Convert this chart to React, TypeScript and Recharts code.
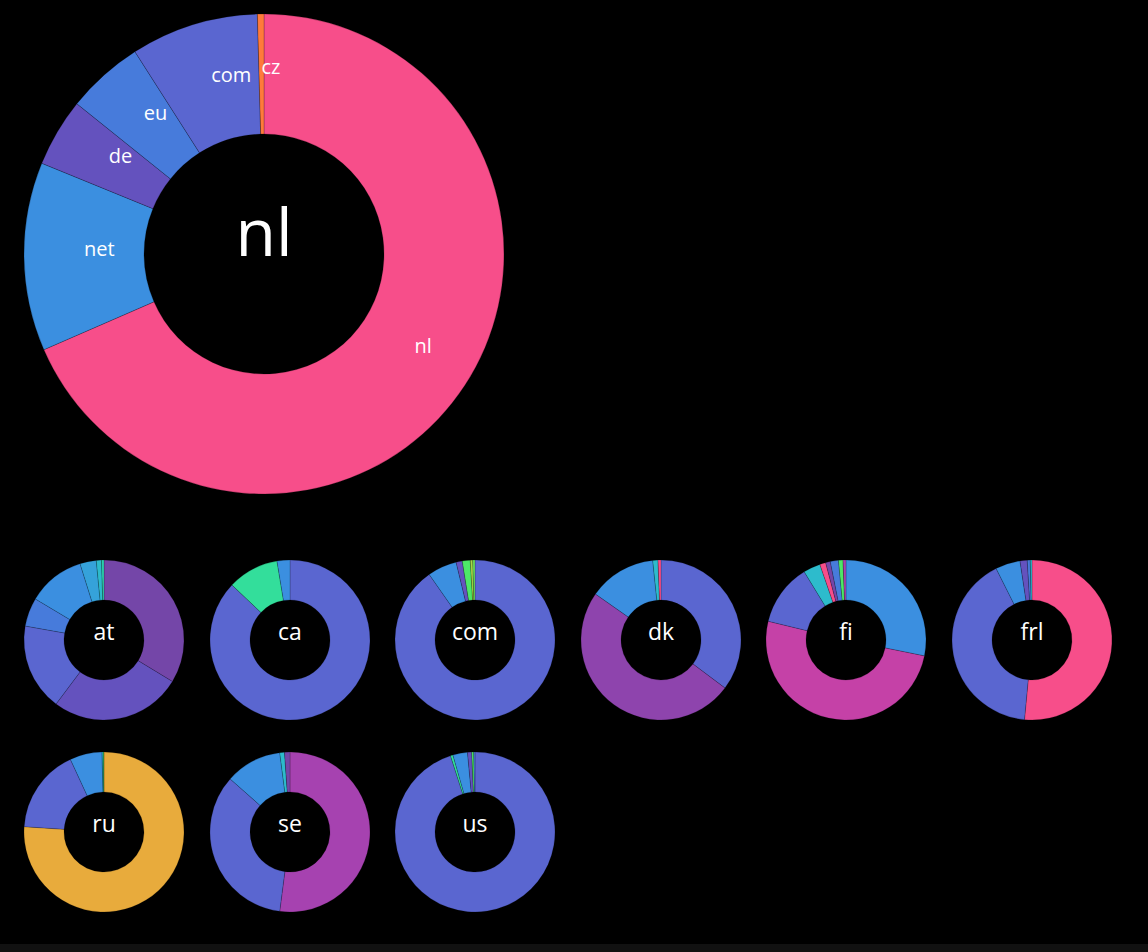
import React from "react";
import { PieChart, Pie, Cell, Label } from "recharts";

// colour per TLD
const TLD_COLORS: Record<string, string> = {
  nl: "#F74E8A",
  net: "#3B8FE0",
  de: "#6452BE",
  eu: "#477BDB",
  com: "#5A66D0",
  cz: "#FF7A3A",
  at: "#7446A8",
  ca: "#33DE9B",
  dk: "#8E44AD",
  fi: "#C541A7",
  ru: "#E8AB3C",
  se: "#A642B0",
  org: "#2DBBCC",
  ch: "#35A2DA",
  io: "#4DE868",
  info: "#2FD0B0",
  be: "#A8D848",
  fr: "#6ADF5C",
};

// main chart
const mainNames = ["nl", "net", "de", "eu", "com", "cz"];
const mainValues = [68.5, 12.7, 4.6, 5.2, 8.6, 0.44];

// small charts
const atNames = ["at", "de", "com", "eu", "net", "ch", "org", "info"];
const atValues = [33.75, 26.6, 17.6, 5.8, 11.6, 3.3, 1.05, 0.5];

const caNames = ["com", "ca", "net"];
const caValues = [86.9, 10.3, 2.6];

const comNames = ["com", "net", "de", "io", "be", "fr"];
const comValues = [90.3, 5.9, 1.25, 1.6, 0.5, 0.45];

const dkNames = ["com", "dk", "net", "org", "nl"];
const dkValues = [35.2, 49.4, 13.6, 1.05, 0.6];

const fiNames = ["net", "fi", "com", "org", "nl", "at", "eu", "io", "se"];
const fiValues = [28.2, 50.6, 12.5, 3.45, 1.2, 0.95, 1.65, 0.9, 0.6];

const frlNames = ["nl", "com", "net", "de", "eu", "org"];
const frlValues = [51.5, 41.1, 5.0, 1.45, 0.6, 0.35];

const ruNames = ["ru", "com", "net", "org", "io"];
const ruValues = [76.1, 17.05, 6.5, 0.25, 0.15];

const seNames = ["se", "com", "net", "org", "at"];
const seValues = [52.05, 34.5, 11.4, 0.95, 1.1];

const usNames = ["com", "ca", "net", "de", "io", "eu"];
const usValues = [95.05, 0.5, 2.95, 0.85, 0.4, 0.25];

const smallCharts = [
  { label: "at", names: atNames, values: atValues },
  { label: "ca", names: caNames, values: caValues },
  { label: "com", names: comNames, values: comValues },
  { label: "dk", names: dkNames, values: dkValues },
  { label: "fi", names: fiNames, values: fiValues },
  { label: "frl", names: frlNames, values: frlValues },
  { label: "ru", names: ruNames, values: ruValues },
  { label: "se", names: seNames, values: seValues },
  { label: "us", names: usNames, values: usValues },
];

const FONT = "'Open Sans', 'Noto Sans', sans-serif";
const RAD = Math.PI / 180;
const SEP = "rgba(0,0,0,0.35)";
const NO_MARGIN = { top: 0, right: 0, bottom: 0, left: 0 };

const toRows = (names: string[], values: number[]) =>
  names.map((name, i) => ({ name, value: values[i] }));

const renderMainLabel = (props: any) => {
  const { cx, cy, midAngle, name } = props;
  const r = 180;
  const x = cx + r * Math.cos(-midAngle * RAD);
  const y = cy + r * Math.sin(-midAngle * RAD);
  return (
    <text x={x} y={y} fill="#fff" fontSize={20} fontWeight={500} fontFamily={FONT} textAnchor="start">
      {name}
    </text>
  );
};

function CenterText({ cx, cy, text, size }: { cx: number; cy: number; text: string; size: number }) {
  return (
    <text x={cx} y={cy} fill="#fff" fontSize={size} fontWeight={500} fontFamily={FONT} textAnchor="middle">
      {text}
    </text>
  );
}

function SmallDonut({ label, names, values }: { label: string; names: string[]; values: number[] }) {
  const data = toRows(names, values);
  return (
    <PieChart width={186} height={192} margin={NO_MARGIN}>
      <Pie
        data={data}
        dataKey="value"
        nameKey="name"
        cx={93}
        cy={96}
        innerRadius={40}
        outerRadius={80}
        startAngle={90}
        endAngle={-270}
        stroke={SEP}
        strokeWidth={0.5}
        isAnimationActive={false}
      >
        {data.map((d, i) => (
          <Cell key={i} fill={TLD_COLORS[d.name]} />
        ))}
        <Label content={() => <CenterText cx={93} cy={96} text={label} size={23} />} />
      </Pie>
    </PieChart>
  );
}

export default function App() {
  const mainData = toRows(mainNames, mainValues);
  return (
    <div style={{ position: "absolute", left: 0, top: 0, width: 1148, height: 952, background: "#111" }}>
      <div style={{ position: "relative", width: 1148, height: 944, background: "#000" }}>
        <div style={{ position: "absolute", left: 0, top: 0 }}>
          <PieChart width={528} height={508} margin={NO_MARGIN}>
            <Pie
              data={mainData}
              dataKey="value"
              nameKey="name"
              cx={264}
              cy={254}
              innerRadius={120}
              outerRadius={240}
              startAngle={90}
              endAngle={-270}
              stroke={SEP}
              strokeWidth={0.6}
              label={renderMainLabel}
              labelLine={false}
              isAnimationActive={false}
            >
              {mainData.map((d, i) => (
                <Cell key={i} fill={TLD_COLORS[d.name]} />
              ))}
              <Label content={() => <CenterText cx={264} cy={256} text="nl" size={66} />} />
            </Pie>
          </PieChart>
        </div>
        {smallCharts.map((c, i) => {
          const col = i % 6;
          const row = Math.floor(i / 6);
          const cx = 104 + col * 185.6;
          const cy = 640 + row * 192;
          return (
            <div key={c.label} style={{ position: "absolute", left: cx - 93, top: cy - 96 }}>
              <SmallDonut label={c.label} names={c.names} values={c.values} />
            </div>
          );
        })}
      </div>
    </div>
  );
}
